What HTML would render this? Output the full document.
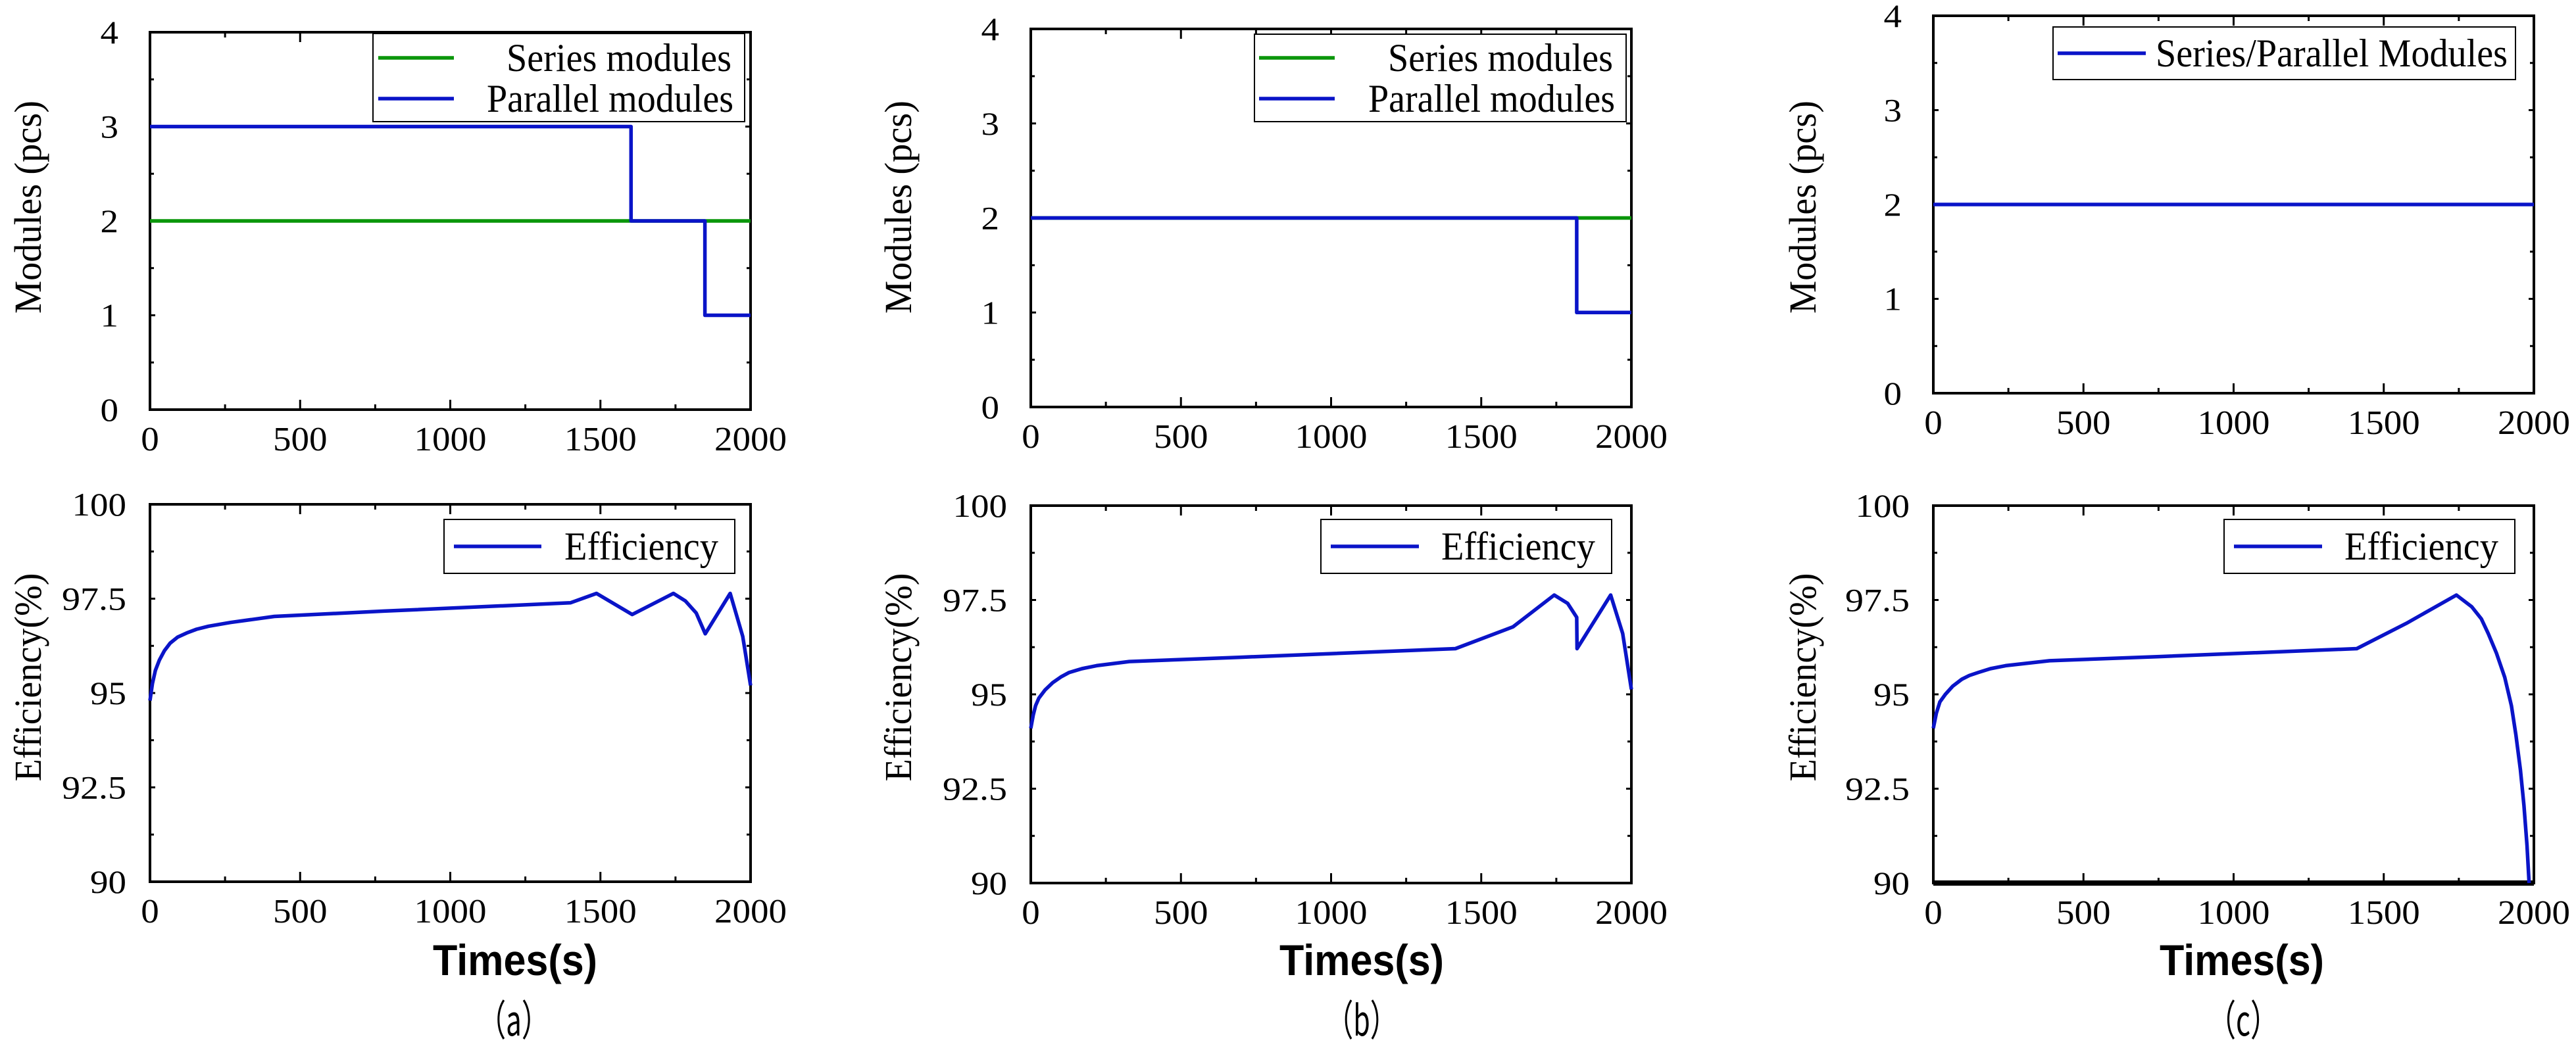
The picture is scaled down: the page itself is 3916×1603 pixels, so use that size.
<!DOCTYPE html>
<html><head><meta charset="utf-8"><style>
html,body{margin:0;padding:0;background:#fff;}
svg{display:block;}
</style></head><body>
<svg id="fig" width="3916" height="1603" viewBox="0 0 3916 1603" xmlns="http://www.w3.org/2000/svg"></svg>
<script>
// ---- data ----
const timeTicks = [0, 500, 1000, 1500, 2000];
const moduleTicks = [0, 1, 2, 3, 4];
const effTicks = [90, 92.5, 95, 97.5, 100];

const aSeriesT = [0, 2000];
const aSeriesV = [2, 2];
const aParallelT = [0, 1602, 1602, 1848, 1848, 2000];
const aParallelV = [3, 3, 2, 2, 1, 1];
const aEffT = [0, 8, 18, 31, 48, 67, 92, 122, 155, 195, 268, 414, 779, 1400, 1487, 1606, 1743, 1783, 1819, 1849, 1932, 1974, 2000];
const aEffV = [94.8, 95.25, 95.6, 95.87, 96.12, 96.32, 96.48, 96.59, 96.69, 96.77, 96.87, 97.03, 97.17, 97.39, 97.64, 97.08, 97.64, 97.44, 97.12, 96.57, 97.64, 96.5, 95.2];

const bSeriesT = [0, 2000];
const bSeriesV = [2, 2];
const bParallelT = [0, 1818, 1818, 2000];
const bParallelV = [2, 2, 1, 1];
const bEffT = [0, 8, 16, 27, 48, 73, 100, 128, 170, 219, 328, 693, 1414, 1606, 1743, 1788, 1818, 1819, 1931, 1971, 2000];
const bEffV = [94.1, 94.45, 94.7, 94.9, 95.12, 95.31, 95.46, 95.58, 95.68, 95.76, 95.87, 95.98, 96.21, 96.79, 97.63, 97.41, 97.04, 96.21, 97.63, 96.61, 95.13];

const cModT = [0, 2000];
const cModV = [2, 2];
const cEffT = [0, 10, 22, 40, 65, 95, 120, 150, 190, 241, 387, 752, 1410, 1575, 1742, 1793, 1825, 1848, 1875, 1903, 1925, 1940, 1955, 1967, 1977, 1984];
const cEffV = [94.1, 94.5, 94.8, 95.0, 95.22, 95.4, 95.5, 95.58, 95.68, 95.76, 95.89, 96.0, 96.21, 96.88, 97.63, 97.32, 97.0, 96.61, 96.1, 95.45, 94.7, 93.93, 93.0, 92.05, 91.0, 90];

const BLUE = "#0a14c8", GREEN = "#0a960a";
const SERIF = '"Liberation Serif", "DejaVu Serif", serif';
const NS = "http://www.w3.org/2000/svg";
const svg = document.getElementById("fig");

function el(tag, attrs, parent) {
  const e = document.createElementNS(NS, tag);
  for (const k in attrs) e.setAttribute(k, attrs[k]);
  (parent || svg).appendChild(e);
  return e;
}

function axes(g, L, R, T, B, xmin, xmax, ymin, ymax, yticks, yminor, lblOff) {
  const sx = v => L + (v - xmin) / (xmax - xmin) * (R - L);
  const sy = v => B - (v - ymin) / (ymax - ymin) * (B - T);
  const frame = el("rect", {x: L, y: T, width: R - L, height: B - T, fill: "none", stroke: "#000", "stroke-width": 4}, g);
  
  
  for (let v = 0; v <= 2000; v += 250) {
    const len = v % 500 === 0 ? 15 : 8;
    const x = sx(v);
    el("line", {x1: x, y1: B, x2: x, y2: B - len, stroke: "#000", "stroke-width": 3}, g);
    el("line", {x1: x, y1: T, x2: x, y2: T + len, stroke: "#000", "stroke-width": 3}, g);
  }
  for (let i = 0; i < yticks.length; i++) {
    const y = sy(yticks[i]);
    el("line", {x1: L, y1: y, x2: L + 8, y2: y, stroke: "#000", "stroke-width": 3}, g);
    el("line", {x1: R, y1: y, x2: R - 8, y2: y, stroke: "#000", "stroke-width": 3}, g);
    if (i < yticks.length - 1) {
      const ym = sy(yticks[i] + yminor);
      el("line", {x1: L, y1: ym, x2: L + 6, y2: ym, stroke: "#000", "stroke-width": 3}, g);
      el("line", {x1: R, y1: ym, x2: R - 6, y2: ym, stroke: "#000", "stroke-width": 3}, g);
    }
    const s = String(yticks[i]);
    const t = el("text", {x: L - lblOff, y: y + 17, "text-anchor": "end", "font-family": SERIF, "font-size": 50, textLength: 27.5 * s.length - (s.includes('.') ? 12 : 0), lengthAdjust: "spacingAndGlyphs"}, g);
    t.textContent = s;
    
    
  }
  for (const v of timeTicks) {
    const s = String(v);
    const t = el("text", {x: sx(v), y: B + 62, "text-anchor": "middle", "font-family": SERIF, "font-size": 52, textLength: 27.5 * s.length, lengthAdjust: "spacingAndGlyphs"}, g);
    t.textContent = s;
    
    
  }
  return {sx, sy};
}

function series(g, s, T, V, color, name) {
  let d = "";
  for (let i = 0; i < T.length; i++) d += (i ? "L" : "M") + s.sx(T[i]).toFixed(1) + "," + s.sy(V[i]).toFixed(1);
  const p = el("path", {d, fill: "none", stroke: color, "stroke-width": 5.5, "stroke-linejoin": "round"}, g);
  
  
}

function legend(g, x1, y1, x2, y2, items) {
  const r = el("rect", {x: x1, y: y1, width: x2 - x1, height: y2 - y1, fill: "#fff", stroke: "#000", "stroke-width": 2}, g);
  
  
  for (const it of items) {
    const ln = el("line", {x1: it.lx1, y1: it.y, x2: it.lx2, y2: it.y, stroke: it.color, "stroke-width": 5.5}, g);
    
    
    const t = el("text", {x: it.tx, y: it.y + 20, "font-family": SERIF, "font-size": 60, textLength: it.tw, lengthAdjust: "spacingAndGlyphs"}, g);
    t.textContent = it.label;
    
    
  }
}

function ylabel(g, x, y, text, len) {
  const t = el("text", {x: 0, y: 0, "font-family": SERIF, "font-size": 58, "text-anchor": "middle", textLength: len, lengthAdjust: "spacingAndGlyphs", transform: `translate(${x},${y}) rotate(-90)`}, g);
  t.textContent = text;
  
  
}

function bottomLabels(g, cx) {
  const t = el("text", {x: cx, y: 1483, "font-family": '"Liberation Sans", sans-serif', "font-size": 66, "text-anchor": "middle", "font-weight": "bold", textLength: 250, lengthAdjust: "spacingAndGlyphs"}, g);
  t.textContent = "Times(s)";
  
  
}
function caption(g, cx, letter) {
  const t = el("text", {x: cx, y: 1575, "font-family": '"Noto Sans CJK SC", "WenQuanYi Zen Hei", sans-serif', "font-size": 64, "text-anchor": "middle", textLength: 108, lengthAdjust: "spacingAndGlyphs"}, g);
  t.textContent = "（" + letter + "）";
  
  
}

// ---- panel a ----
{
  const g = el("g", {});
  
  
  const L = 228, R = 1141;
  const s1 = axes(g, L, R, 49, 623, 0, 2000, 0, 4, moduleTicks, 0.5, 48);
  series(g, s1, aSeriesT, aSeriesV, GREEN, "series-modules-line");
  series(g, s1, aParallelT, aParallelV, BLUE, "parallel-modules-line");
  legend(g, 567, 51, 1132, 185, [
    {lx1: 575, lx2: 690, y: 88, color: GREEN, tx: 770, tw: 342, label: "Series modules"},
    {lx1: 575, lx2: 690, y: 150, color: BLUE, tx: 740, tw: 375, label: "Parallel modules"}]);
  const s2 = axes(g, L, R, 767, 1341, 0, 2000, 90, 100, effTicks, 1.25, 36);
  legend(g, 675, 790, 1117, 872, [{lx1: 690, lx2: 823, y: 831, color: BLUE, tx: 858, tw: 234, label: "Efficiency"}]);
  series(g, s2, aEffT, aEffV, BLUE, "efficiency-line");
  ylabel(g, 62, 315, "Modules (pcs)", 324);
  ylabel(g, 62, 1030, "Efficiency(%)", 317);
  bottomLabels(g, 783);
  caption(g, 781, "a");
}
// ---- panel b ----
{
  const g = el("g", {});
  
  
  const L = 1567, R = 2480;
  const s1 = axes(g, L, R, 44, 619, 0, 2000, 0, 4, moduleTicks, 0.5, 48);
  series(g, s1, bSeriesT, bSeriesV, GREEN, "series-modules-line");
  series(g, s1, bParallelT, bParallelV, BLUE, "parallel-modules-line");
  legend(g, 1907, 52, 2472, 185, [
    {lx1: 1914, lx2: 2029, y: 88, color: GREEN, tx: 2110, tw: 342, label: "Series modules"},
    {lx1: 1914, lx2: 2029, y: 150, color: BLUE, tx: 2080, tw: 375, label: "Parallel modules"}]);
  const s2 = axes(g, L, R, 769, 1343, 0, 2000, 90, 100, effTicks, 1.25, 36);
  legend(g, 2008, 790, 2450, 872, [{lx1: 2023, lx2: 2157, y: 831, color: BLUE, tx: 2191, tw: 234, label: "Efficiency"}]);
  series(g, s2, bEffT, bEffV, BLUE, "efficiency-line");
  ylabel(g, 1385, 315, "Modules (pcs)", 324);
  ylabel(g, 1385, 1030, "Efficiency(%)", 317);
  bottomLabels(g, 2070);
  caption(g, 2070, "b");
}
// ---- panel c ----
{
  const g = el("g", {});
  
  
  const L = 2939, R = 3852;
  const s1 = axes(g, L, R, 24, 598, 0, 2000, 0, 4, moduleTicks, 0.5, 48);
  series(g, s1, cModT, cModV, BLUE, "series-parallel-modules-line");
  legend(g, 3121, 41, 3824, 121, [
    {lx1: 3128, lx2: 3262, y: 81, color: BLUE, tx: 3277, tw: 535, label: "Series/Parallel Modules"}]);
  const s2 = axes(g, L, R, 769, 1343, 0, 2000, 90, 100, effTicks, 1.25, 36);
  el("line", {x1: L, y1: 1343, x2: R, y2: 1343, stroke: "#000", "stroke-width": 8}, g);
  legend(g, 3381, 790, 3823, 872, [{lx1: 3396, lx2: 3530, y: 831, color: BLUE, tx: 3564, tw: 234, label: "Efficiency"}]);
  series(g, s2, cEffT, cEffV, BLUE, "efficiency-line");
  ylabel(g, 2760, 315, "Modules (pcs)", 324);
  ylabel(g, 2760, 1030, "Efficiency(%)", 317);
  bottomLabels(g, 3408);
  caption(g, 3410, "c");
}
</script>
</body></html>
